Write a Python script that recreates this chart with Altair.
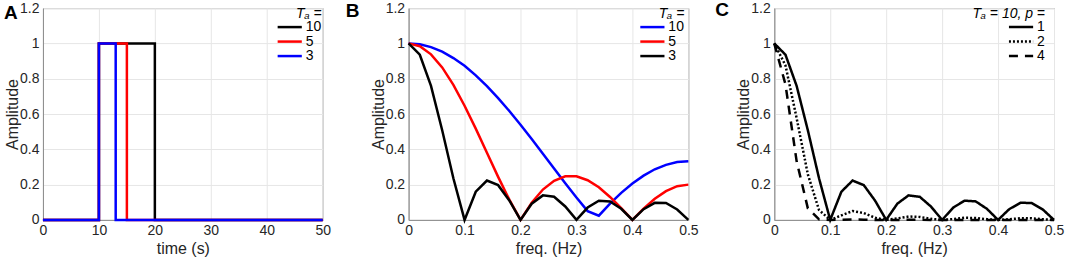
import altair as alt
import pandas as pd

# ---------- data ----------
# Panel A: rectangular pulses (step-after), times in s
a_series = ["10", "5", "3"]
a_time_10 = [0, 10, 20, 50]
a_amp_10 = [0, 1, 0, 0]
a_time_5 = [0, 10, 15, 50]
a_amp_5 = [0, 1, 0, 0]
a_time_3 = [0, 10, 13, 50]
a_amp_3 = [0, 1, 0, 0]

# Panels B and C: frequency grid (Hz)
freq = [0.00, 0.02, 0.04, 0.06, 0.08, 0.10, 0.12, 0.14, 0.16, 0.18, 0.20, 0.22, 0.24,
        0.26, 0.28, 0.30, 0.32, 0.34, 0.36, 0.38, 0.40, 0.42, 0.44, 0.46, 0.48, 0.50]

# Panel B series (legend labels as drawn)
b_series = ["10", "5", "3"]
b_blue = [1.000, 0.995, 0.979, 0.953, 0.917, 0.873, 0.819, 0.758, 0.690, 0.617, 0.539, 0.458, 0.375,
          0.291, 0.208, 0.127, 0.050, 0.024, 0.092, 0.153, 0.206, 0.251, 0.287, 0.312, 0.328, 0.333]
b_red = [1.000, 0.984, 0.938, 0.864, 0.765, 0.647, 0.517, 0.380, 0.244, 0.115, 0.000, 0.097, 0.172,
         0.222, 0.247, 0.247, 0.225, 0.185, 0.130, 0.067, 0.000, 0.064, 0.120, 0.163, 0.191, 0.200]
b_black = [1.000, 0.936, 0.759, 0.508, 0.236, 0.000, 0.160, 0.223, 0.197, 0.110, 0.000, 0.092, 0.139,
           0.131, 0.076, 0.000, 0.070, 0.109, 0.105, 0.063, 0.000, 0.061, 0.097, 0.096, 0.059, 0.000]

# Panel C series (p = 1, 2, 4)
c_series = ["1", "2", "4"]
c_p1 = [1.000, 0.936, 0.759, 0.508, 0.236, 0.000, 0.160, 0.223, 0.197, 0.110, 0.000, 0.092, 0.139,
        0.131, 0.076, 0.000, 0.070, 0.109, 0.105, 0.063, 0.000, 0.061, 0.097, 0.096, 0.059, 0.000]
c_p2 = [1.000, 0.876, 0.576, 0.258, 0.056, 0.000, 0.026, 0.050, 0.039, 0.012, 0.000, 0.0085, 0.019,
        0.017, 0.006, 0.000, 0.005, 0.012, 0.011, 0.004, 0.000, 0.004, 0.009, 0.009, 0.0035, 0.000]
c_p4 = [1.000, 0.768, 0.332, 0.066, 0.003, 0.000, 0.0007, 0.0025, 0.0015, 0.0001, 0.000, 0.0001, 0.0004,
        0.0003, 0.000, 0.000, 0.000, 0.0001, 0.0001, 0.000, 0.000, 0.000, 0.0001, 0.0001, 0.000, 0.000]

y_ticks = [0, 0.2, 0.4, 0.6, 0.8, 1.0, 1.2]
t_ticks = [0, 10, 20, 30, 40, 50]
f_ticks = [0, 0.1, 0.2, 0.3, 0.4, 0.5]

FONT = "Liberation Sans"
W, H = 280, 212

# ---------- frames ----------
dfA = pd.concat([
    pd.DataFrame({"t": a_time_10, "amp": a_amp_10, "Ta": "10"}),
    pd.DataFrame({"t": a_time_5, "amp": a_amp_5, "Ta": "5"}),
    pd.DataFrame({"t": a_time_3, "amp": a_amp_3, "Ta": "3"}),
])
dfB = pd.concat([
    pd.DataFrame({"f": freq, "amp": b_blue, "Ta": "10"}),
    pd.DataFrame({"f": freq, "amp": b_red, "Ta": "5"}),
    pd.DataFrame({"f": freq, "amp": b_black, "Ta": "3"}),
])
dfC = pd.concat([
    pd.DataFrame({"f": freq, "amp": c_p1, "p": "1"}),
    pd.DataFrame({"f": freq, "amp": c_p2, "p": "2"}),
    pd.DataFrame({"f": freq, "amp": c_p4, "p": "4"}),
])


def legend(title, x, sym_off=0):
    return alt.Legend(
        orient="none", legendX=x, legendY=-1, title=title, titleAnchor="end",
        titleAlign="right", titlePadding=-1, padding=0,
        symbolType="M-2.2,0L2.2,0", symbolSize=121, symbolStrokeWidth=2.5,
        symbolStrokeColor="black", symbolOffset=sym_off, labelOffset=9,
        labelFontSize=14, labelFont=FONT,
        labelColor="#000000", rowPadding=0.5, titleFontStyle="italic",
        titleFontWeight="normal", titleFontSize=14, titleFont=FONT, titleColor="#000000",
    )


yenc = alt.Y("amp:Q", scale=alt.Scale(domain=[0, 1.2], nice=False),
             axis=alt.Axis(values=y_ticks, format="~g", title="Amplitude", labelFlush=False))


def xaxis(title, fmt):
    return alt.Axis(values=(t_ticks if fmt == "" else f_ticks), format=(fmt or "d"), title=title,
                    labelFlush=False)


def letter(txt, x, y):
    return alt.Chart(pd.DataFrame({"lbl": [txt]})).mark_text(
        font=FONT, fontSize=19, fontWeight="bold", align="left", baseline="middle", color="black"
    ).encode(x=alt.value(x), y=alt.value(y), text="lbl:N")


# Panel A
colA = alt.Color("Ta:N", scale=alt.Scale(domain=a_series, range=["#000000", "#ff0000", "#0000ff"]),
                 legend=legend("Tₐ =", 240))
baseA = alt.Chart(dfA).mark_line(interpolate="step-after", strokeWidth=2.5).encode(
    x=alt.X("t:Q", scale=alt.Scale(domain=[0, 50], nice=False), axis=xaxis("time (s)", "")),
    y=yenc, color=colA,
)
chartA = alt.layer(
    *[baseA.transform_filter(alt.datum.Ta == k) for k in a_series],
    letter("A", -39, 4.5),
).properties(width=W, height=H)

# Panel B
colB = alt.Color("Ta:N", scale=alt.Scale(domain=b_series, range=["#0000ff", "#ff0000", "#000000"]),
                 legend=legend("Tₐ =", 237))
baseB = alt.Chart(dfB).mark_line(strokeWidth=2.5).encode(
    x=alt.X("f:Q", scale=alt.Scale(domain=[0, 0.5], nice=False), axis=xaxis("freq. (Hz)", "~g")),
    y=yenc, color=colB,
)
chartB = alt.layer(
    *[baseB.transform_filter(alt.datum.Ta == k) for k in b_series],
    letter("B", -63, 3),
).properties(width=W, height=H)

# Panel C
dashC = alt.StrokeDash("p:N", scale=alt.Scale(domain=c_series, range=[[1, 0], [2, 2], [9, 7]]),
                       legend=legend("Tₐ = 10, p =", 197, sym_off=43))
baseC = alt.Chart(dfC).mark_line(strokeWidth=2.5, color="black").encode(
    x=alt.X("f:Q", scale=alt.Scale(domain=[0, 0.5], nice=False), axis=xaxis("freq. (Hz)", "~g")),
    y=yenc, strokeDash=dashC,
)
chartC = alt.layer(
    *[baseC.transform_filter(alt.datum.p == k) for k in c_series],
    letter("C", -59, 2),
).properties(width=W, height=H)

chart = alt.hconcat(chartA, chartB, chartC, spacing=86, bounds="flush").resolve_scale(
    color="independent", strokeDash="independent"
).resolve_legend(color="independent", strokeDash="independent").properties(
    padding={"left": 3, "top": 0, "right": 0, "bottom": 0}
).configure_axis(
    labelFont=FONT, titleFont=FONT, labelFontSize=14, titleFontSize=16,
    titleFontWeight="normal", labelColor="#262626", titleColor="#262626",
    gridColor="#e6e6e6", domainColor="#8c8c8c", ticks=False, labelPadding=4,
).configure_axisX(titlePadding=3).configure_axisY(titlePadding=-1).configure_view(
    stroke="#8c8c8c", strokeWidth=1
)

chart.save("out.html", embed_options={"renderer": "svg", "actions": False})
